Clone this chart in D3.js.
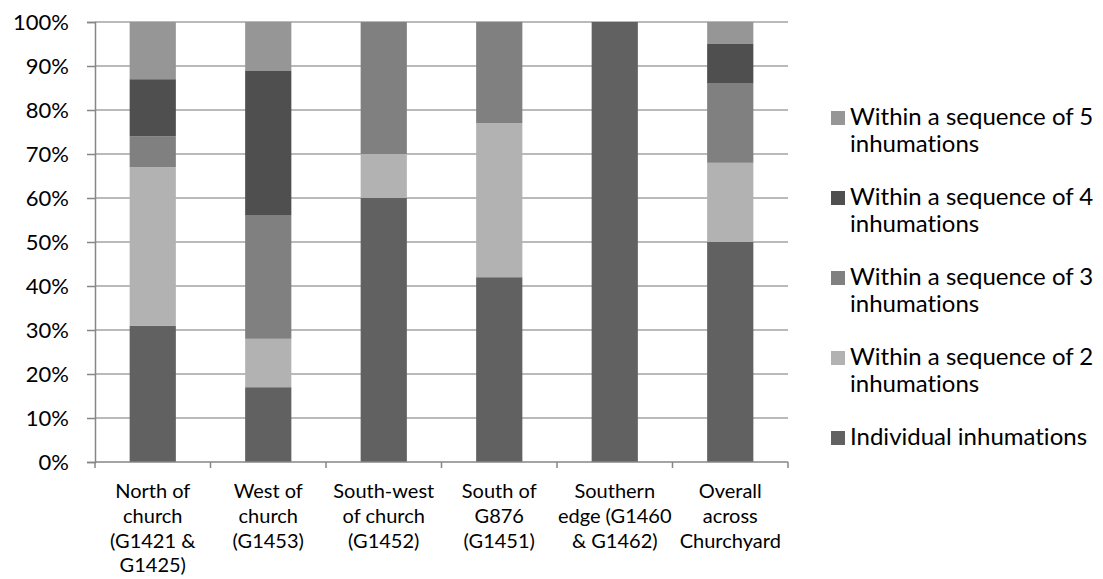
<!DOCTYPE html>
<html>
<head>
<meta charset="utf-8">
<script src="https://cdn.jsdelivr.net/npm/d3@7"></script>
<style>
  html, body { margin: 0; padding: 0; background: #ffffff; }
  svg { display: block; }
  text { font-family: Lato, "Open Sans", sans-serif; fill: #000; font-variant-ligatures: none; font-feature-settings: "liga" 0, "clig" 0; }
</style>
</head>
<body>
<svg id="chart" width="1103" height="579"></svg>
<script>
// Burial areas (x axis), each label split into its printed lines
const categories = [
  ["North of", "church", "(G1421 &", "G1425)"],
  ["West of", "church", "(G1453)"],
  ["South-west", "of church", "(G1452)"],
  ["South of", "G876", "(G1451)"],
  ["Southern", "edge (G1460", "& G1462)"],
  ["Overall", "across", "Churchyard"]
];

// Series, stacked from the bottom up (percent of inhumations)
const seriesNames = [
  "Individual inhumations",
  "Within a sequence of 2 inhumations",
  "Within a sequence of 3 inhumations",
  "Within a sequence of 4 inhumations",
  "Within a sequence of 5 inhumations"
];
const individual = [31, 17, 60, 42, 100, 50];
const seqOf2     = [36, 11, 10, 35,   0, 18];
const seqOf3     = [ 7, 28, 30, 23,   0, 18];
const seqOf4     = [13, 33,  0,  0,   0,  9];
const seqOf5     = [13, 11,  0,  0,   0,  5];

const yTicks = [0, 10, 20, 30, 40, 50, 60, 70, 80, 90, 100];

const colors = ["#616161", "#b2b2b2", "#808080", "#4f4f4f", "#969696"];

const seriesValues = [individual, seqOf2, seqOf3, seqOf4, seqOf5];
const rows = categories.map((c, i) => {
  const r = { key: i };
  seriesNames.forEach((s, k) => { r[s] = seriesValues[k][i]; });
  return r;
});
const stacked = d3.stack().keys(seriesNames)(rows);

const svg = d3.select("#chart");
const plot = { left: 95, right: 788, top: 22, bottom: 462 };

const x = d3.scaleBand()
  .domain(categories.map((c, i) => i))
  .range([plot.left, plot.right])
  .paddingInner(0.6)
  .paddingOuter(0.3);
const step = x.step();

const y = d3.scaleLinear().domain([0, 100]).range([plot.bottom, plot.top]);

// Horizontal gridlines
svg.append("g")
  .selectAll("line")
  .data(yTicks.filter(t => t > 0))
  .join("line")
  .attr("x1", plot.left).attr("x2", plot.right)
  .attr("y1", d => y(d)).attr("y2", d => y(d))
  .attr("stroke", "#a3a3a3")
  .attr("stroke-width", 1.5);

// Stacked bars
svg.append("g")
  .selectAll("g")
  .data(stacked)
  .join("g")
  .attr("fill", (d, i) => colors[i])
  .selectAll("rect")
  .data(d => d.filter(p => p[1] - p[0] > 0))
  .join("rect")
  .attr("x", d => x(d.data.key))
  .attr("width", x.bandwidth())
  .attr("y", d => y(d[1]))
  .attr("height", d => y(d[0]) - y(d[1]));

// Y axis
const yAxis = d3.axisLeft(y)
  .tickValues(yTicks)
  .tickFormat(d => d + "%")
  .tickSize(8)
  .tickPadding(18);
const yg = svg.append("g")
  .attr("transform", `translate(${plot.left},0)`)
  .call(yAxis);
yg.select(".domain").attr("stroke", "#868686").attr("stroke-width", 1.5);
yg.selectAll(".tick line").attr("stroke", "#868686").attr("stroke-width", 1.5);
yg.selectAll(".tick text")
  .attr("font-size", 22)
  .attr("font-family", "Lato, sans-serif")
  .attr("fill", "#000");

// X axis: boundary ticks between categories
const boundaries = d3.range(categories.length + 1).map(i => plot.left + i * step);
svg.append("line")
  .attr("x1", plot.left).attr("x2", plot.right)
  .attr("y1", plot.bottom).attr("y2", plot.bottom)
  .attr("stroke", "#868686").attr("stroke-width", 1.5);
svg.append("g")
  .selectAll("line")
  .data(boundaries)
  .join("line")
  .attr("x1", d => d).attr("x2", d => d)
  .attr("y1", plot.bottom).attr("y2", plot.bottom + 6)
  .attr("stroke", "#868686").attr("stroke-width", 1.5);

// Category labels
const lab = svg.append("g")
  .selectAll("text")
  .data(categories)
  .join("text")
  .attr("text-anchor", "middle")
  .attr("font-size", 20)
  .attr("transform", (d, i) => `translate(${x(i) + x.bandwidth() / 2},498)`);
lab.selectAll("tspan")
  .data(d => d)
  .join("tspan")
  .attr("x", 0)
  .attr("y", (d, j) => j * 24.8)
  .text(d => d);

// Legend, top entry first
const legendOrder = seriesNames.map((s, i) => i).reverse();
const legendLines = [
  ["Within a sequence of 5", "inhumations"],
  ["Within a sequence of 4", "inhumations"],
  ["Within a sequence of 3", "inhumations"],
  ["Within a sequence of 2", "inhumations"],
  ["Individual inhumations"]
];
const lg = svg.append("g")
  .selectAll("g")
  .data(legendOrder)
  .join("g")
  .attr("transform", (d, i) => `translate(831,${125 + i * 80})`);
lg.append("rect")
  .attr("x", 0).attr("y", -14)
  .attr("width", 14).attr("height", 14)
  .attr("fill", d => colors[d]);
lg.append("text")
  .attr("font-size", 24)
  .selectAll("tspan")
  .data((d, i) => legendLines[i])
  .join("tspan")
  .attr("x", 19)
  .attr("y", (t, j) => j * 27)
  .text(t => t);
</script>
</body>
</html>
